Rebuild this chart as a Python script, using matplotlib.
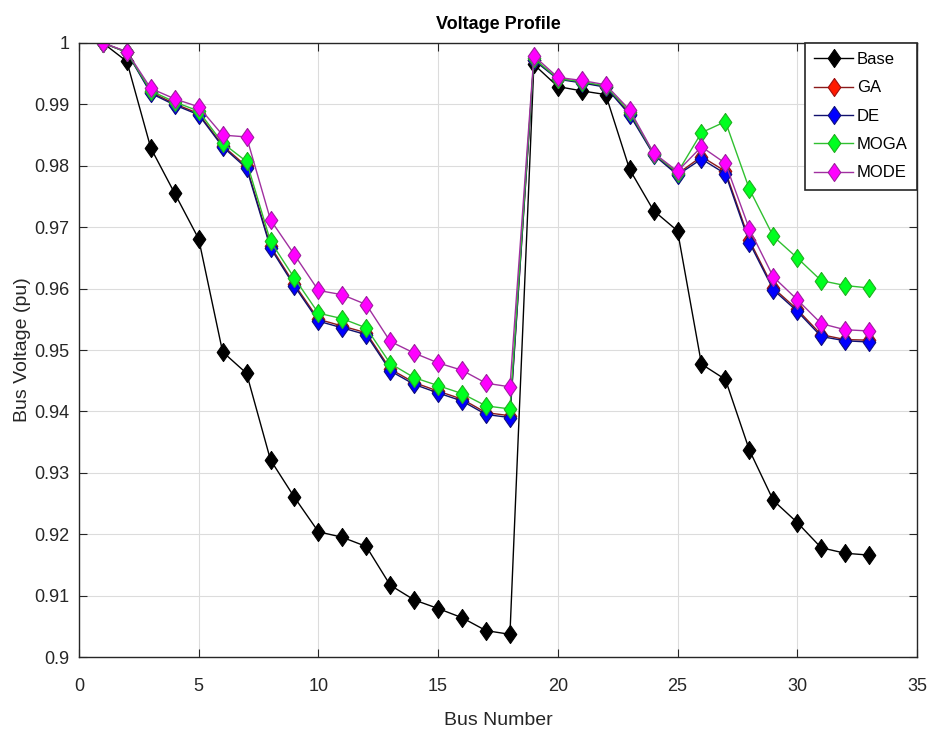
import matplotlib
matplotlib.use("Agg")
import matplotlib.pyplot as plt
from matplotlib.ticker import FuncFormatter

plt.rcParams["font.family"] = ["Liberation Sans", "DejaVu Sans"]

bus = list(range(1, 34))

base = [1.0000, 0.9970, 0.9829, 0.9755, 0.9681, 0.9497, 0.9462, 0.9321, 0.9260,
        0.9204, 0.9195, 0.9180, 0.9117, 0.9093, 0.9079, 0.9064, 0.9043, 0.9037,
        0.9965, 0.9929, 0.9922, 0.9916, 0.9794, 0.9727, 0.9694, 0.9477, 0.9452,
        0.9337, 0.9255, 0.9219, 0.9178, 0.9169, 0.9166]
ga = [1.0000, 0.9985, 0.9920, 0.9901, 0.9885, 0.9833, 0.9799, 0.9669, 0.9607,
      0.9550, 0.9539, 0.9528, 0.9469, 0.9447, 0.9433, 0.9420, 0.9398, 0.9393,
      0.9973, 0.9942, 0.9936, 0.9929, 0.9885, 0.9819, 0.9787, 0.9815, 0.9791,
      0.9679, 0.9601, 0.9566, 0.9525, 0.9517, 0.9516]
de = [1.0000, 0.9985, 0.9918, 0.9899, 0.9883, 0.9831, 0.9796, 0.9666, 0.9604,
      0.9547, 0.9536, 0.9525, 0.9466, 0.9444, 0.9430, 0.9417, 0.9395, 0.9390,
      0.9972, 0.9941, 0.9935, 0.9928, 0.9883, 0.9818, 0.9785, 0.9811, 0.9787,
      0.9675, 0.9598, 0.9563, 0.9522, 0.9515, 0.9513]
moga = [1.0000, 0.9985, 0.9922, 0.9904, 0.9889, 0.9837, 0.9807, 0.9677, 0.9617,
        0.9560, 0.9551, 0.9536, 0.9478, 0.9455, 0.9442, 0.9429, 0.9409, 0.9404,
        0.9975, 0.9942, 0.9937, 0.9930, 0.9888, 0.9820, 0.9789, 0.9854, 0.9872,
        0.9762, 0.9685, 0.9650, 0.9613, 0.9605, 0.9601]
mode = [1.0000, 0.9986, 0.9926, 0.9909, 0.9896, 0.9850, 0.9847, 0.9712, 0.9655,
        0.9597, 0.9590, 0.9574, 0.9514, 0.9495, 0.9479, 0.9467, 0.9446, 0.9440,
        0.9979, 0.9944, 0.9939, 0.9932, 0.9891, 0.9821, 0.9791, 0.9831, 0.9804,
        0.9697, 0.9619, 0.9582, 0.9543, 0.9533, 0.9531]

# name, values, line colour, marker face, marker edge
series = [
    ("Base", base, "black", "black", "black"),
    ("GA", ga, "#8b1a1a", "#ff1a00", "#a01010"),
    ("DE", de, "#10106e", "#0000ff", "#101080"),
    ("MOGA", moga, "#30c030", "#00ff20", "#20b020"),
    ("MODE", mode, "#a030a0", "#ff00ff", "#a020a0"),
]

# diamond a bit taller than wide, like the stretched MATLAB markers
diamond = [(0, 1), (0.7, 0), (0, -1), (-0.7, 0), (0, 1)]

fig = plt.figure(figsize=(9.3, 7.31), dpi=100)
ax = fig.add_axes([0.0849, 0.1012, 0.9011, 0.8400])

for name, vals, lc, fc, ec in series:
    ax.plot(bus, vals, color=lc, lw=1.0, marker=diamond, markersize=13,
            markerfacecolor=fc, markeredgecolor=ec, markeredgewidth=0.8,
            label=name)

ax.set_xlim(0, 35)
ax.set_ylim(0.9, 1.0)
ax.set_xticks(range(0, 36, 5))
ax.set_yticks([0.9 + 0.01 * i for i in range(11)])
ax.yaxis.set_major_formatter(FuncFormatter(lambda v, p: f"{v:.2f}".rstrip("0").rstrip(".")))
ax.grid(True, color="#dcdcdc", lw=0.8)
ax.set_axisbelow(True)
ax.tick_params(direction="in", top=True, right=True, length=6, width=0.8,
               colors="#262626", labelsize=13)
ax.tick_params(axis="x", pad=15)
ax.tick_params(axis="y", pad=7)
for sp in ax.spines.values():
    sp.set_color("#262626")
    sp.set_linewidth(1.0)

ax.set_title("Voltage Profile", fontsize=13, fontweight="bold", pad=10)
ax.set_xlabel("Bus Number", fontsize=14, color="#262626", labelpad=12)
ax.set_ylabel("Bus Voltage (pu)", fontsize=14, color="#262626", labelpad=2)

leg = ax.legend(loc="upper right", fontsize=12, frameon=True, fancybox=False,
                edgecolor="#262626", borderaxespad=0.0, handlelength=2.3,
                labelspacing=0.8, borderpad=0.55, handletextpad=0.25,
                framealpha=1.0)
leg.get_frame().set_linewidth(1.2)

fig.savefig("out.png", dpi=100)
